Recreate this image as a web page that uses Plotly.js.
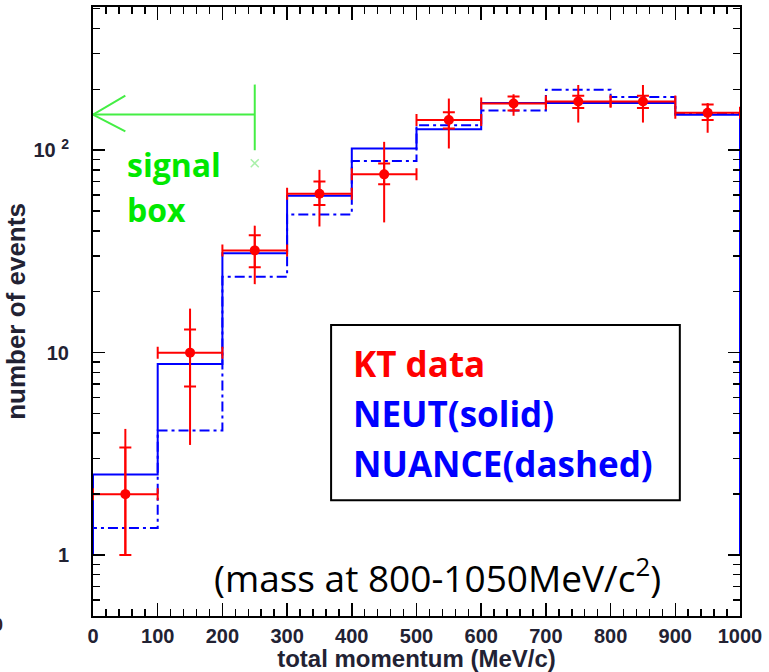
<!DOCTYPE html>
<html>
<head>
<meta charset="utf-8">
<script src="https://cdn.plot.ly/plotly-3.0.1.min.js"></script>
<style>html,body{margin:0;padding:0;background:#fff;}#chart{width:769px;height:672px;}</style>
</head>
<body>
<div id="chart"></div>
<script>
// ---- data ----
const binEdges = [0, 100, 200, 300, 400, 500, 600, 700, 800, 900, 1000];
const binCenters = [50, 150, 250, 350, 450, 550, 650, 750, 850, 950];
const neutSolid = [2.5, 8.8, 31, 59.6, 102, 127, 171, 171, 171, 149.6];
const nuanceDashed = [1.36, 4.12, 23.7, 48.2, 88.5, 133, 157, 199, 183, 152];
const ktData = [2, 10, 32, 61, 76, 141, 170, 174, 174, 153];
const ktInnerUp = [3.4, 13.0, 38, 70, 86, 154, 184, 186, 186, 168];
const ktInnerDown = [1, 6.8, 26.4, 53.6, 68, 128, 157, 161.5, 161.5, 141];
const ktOuterUp = [4.2, 16.5, 42.4, 80, 110, 180, 189, 210, 210, 171];
const ktOuterDown = [1, 3.5, 21.8, 42, 44, 102, 148, 137, 137, 122];
const binHalfWidth = [50, 50, 50, 50, 50, 50, 50, 50, 50, 50];
const histFloor = 1;
// signal box marker
const signalEdge = 250;
const signalLevel = 150;
const signalBarY = [100, 211];
const arrowArmX = [50, 0, 50];
const arrowArmY = [186, 150, 124];
const signalCrossY = 86.3;
const yTickVals = [1, 10, 100];
const yTickText = ['1', '10', '10 <sup>2</sup>'];
const xTickVals = [0, 100, 200, 300, 400, 500, 600, 700, 800, 900, 1000];
const yMinorVals = [0.6, 0.7, 0.8, 0.9, 2, 3, 4, 5, 6, 7, 8, 9, 20, 30, 40, 50, 60, 70, 80, 90, 200, 300, 400, 500];

// ---- build step outlines ----
function stepLine(vals) {
  const xs = [binEdges[0]], ys = [histFloor];
  for (let i = 0; i < vals.length; i++) { xs.push(binEdges[i]); ys.push(vals[i]); }
  const last = binEdges[binEdges.length - 1];
  xs.push(last); ys.push(vals[vals.length - 1]);
  xs.push(last); ys.push(histFloor);
  return {xs, ys};
}
const neutStep = stepLine(neutSolid);
const nuanceStep = stepLine(nuanceDashed);
const diffUp = (a, b) => a.map((v, i) => v - b[i]);
const diffDown = (a, b) => b.map((v, i) => v - a[i]);

const RED = '#ff0000', BLUE = '#0000ff', GREEN = '#00e800', LGREEN = '#44ee44';

const traces = [
  {x: neutStep.xs, y: neutStep.ys, mode: 'lines', line: {color: BLUE, width: 2, shape: 'hv'}, hoverinfo: 'skip'},
  {x: nuanceStep.xs, y: nuanceStep.ys, mode: 'lines', line: {color: BLUE, width: 2, shape: 'hv', dash: '10px,4px,3px,4px'}, hoverinfo: 'skip'},
  {x: binCenters, y: ktData, mode: 'markers', marker: {size: 1, color: RED},
   error_y: {type: 'data', symmetric: false, array: diffUp(ktOuterUp, ktData), arrayminus: diffDown(ktOuterDown, ktData), color: RED, thickness: 2, width: 0}},
  {x: binCenters, y: ktData, mode: 'markers', marker: {size: 1, color: RED},
   error_y: {type: 'data', symmetric: false, array: diffUp(ktInnerUp, ktData), arrayminus: diffDown(ktInnerDown, ktData), color: RED, thickness: 2, width: 6}},
  {x: binCenters, y: ktData, mode: 'markers', marker: {size: 10, color: RED},
   error_x: {type: 'data', array: binHalfWidth, color: RED, thickness: 2, width: 6}},
  // signal box arrow
  {x: [signalEdge, 0], y: [signalLevel, signalLevel], mode: 'lines', line: {color: LGREEN, width: 2}, hoverinfo: 'skip'},
  {x: arrowArmX, y: arrowArmY, mode: 'lines', line: {color: LGREEN, width: 2}, hoverinfo: 'skip'},
  {x: [signalEdge, signalEdge], y: signalBarY, mode: 'lines', line: {color: LGREEN, width: 2}, hoverinfo: 'skip'},
  {x: [signalEdge], y: [signalCrossY], mode: 'markers', marker: {symbol: 'x-thin-open', size: 8, color: '#aaf0aa', line: {width: 1.5, color: '#aaf0aa'}}, hoverinfo: 'skip'}
];

const axisFont = {family: 'Liberation Sans, Arial, sans-serif', size: 20, color: '#222233', weight: 700};

const layout = {
  width: 769, height: 672,
  margin: {l: 93, r: 29, t: 7, b: 56},
  paper_bgcolor: '#ffffff', plot_bgcolor: '#ffffff',
  showlegend: false,
  xaxis: {
    range: [0, 1000], tickmode: 'array', tickvals: xTickVals,
    ticks: 'inside', ticklen: 13, tickwidth: 1.5, tickcolor: '#000',
    minor: {dtick: 20, tick0: 0, ticks: 'inside', ticklen: 7, tickwidth: 1.5, tickcolor: '#000'},
    showline: true, linewidth: 2, linecolor: '#000', mirror: 'ticks',
    showgrid: false, zeroline: false,
    tickfont: axisFont, ticklabelstandoff: 1,
    title: {text: 'total momentum (MeV/c)', font: {family: 'Liberation Sans, Arial, sans-serif', size: 24, color: '#222233', weight: 700}, standoff: 6}
  },
  yaxis: {
    type: 'log', range: [Math.log10(0.5), Math.log10(510)],
    tickmode: 'array', tickvals: yTickVals, ticktext: yTickText,
    ticks: 'inside', ticklen: 12, tickwidth: 1.5, tickcolor: '#000',
    minor: {tickmode: 'array', tickvals: yMinorVals, ticks: 'inside', ticklen: 7, tickwidth: 1.5, tickcolor: '#000'},
    showline: true, linewidth: 2, linecolor: '#000', mirror: 'ticks',
    showgrid: false, zeroline: false,
    tickfont: axisFont, ticklabelstandoff: 18,
    title: {text: 'number of events', font: {family: 'Liberation Sans, Arial, sans-serif', size: 26, color: '#222233', weight: 700}, standoff: 0}
  },
  shapes: [
    {type: 'rect', xref: 'paper', yref: 'paper', x0: 0.368, x1: 0.907, y0: 0.190, y1: 0.478, line: {color: '#000', width: 2}, fillcolor: 'rgba(0,0,0,0)'}
  ],
  annotations: [
    {xref: 'paper', yref: 'paper', x: 0.399, y: 0.415, xanchor: 'left', yanchor: 'middle', showarrow: false, text: 'KT data', font: {family: 'Open Sans', size: 35, color: RED, weight: 700}},
    {xref: 'paper', yref: 'paper', x: 0.399, y: 0.332, xanchor: 'left', yanchor: 'middle', showarrow: false, text: 'NEUT(solid)', font: {family: 'Open Sans', size: 35, color: BLUE, weight: 700}},
    {xref: 'paper', yref: 'paper', x: 0.399, y: 0.250, xanchor: 'left', yanchor: 'middle', showarrow: false, text: 'NUANCE(dashed)', font: {family: 'Open Sans', size: 35, color: BLUE, weight: 700}},
    {xref: 'paper', yref: 'paper', x: 0.532, y: 0.067, xanchor: 'center', yanchor: 'middle', showarrow: false, text: '(mass at 800-1050MeV/c<sup>2</sup>)', font: {family: 'Open Sans', size: 37, color: '#000'}},
    {xref: 'paper', yref: 'paper', x: 0.0495, y: 0.742, xanchor: 'left', yanchor: 'middle', showarrow: false, text: 'signal', font: {family: 'Open Sans', size: 32, color: GREEN, weight: 700}},
    {xref: 'paper', yref: 'paper', x: 0.0495, y: 0.668, xanchor: 'left', yanchor: 'middle', showarrow: false, text: 'box', font: {family: 'Open Sans', size: 32, color: GREEN, weight: 700}},
    {xref: 'paper', yref: 'paper', x: -0.147, y: -0.015, xanchor: 'center', yanchor: 'middle', showarrow: false, text: '0', font: {family: 'Liberation Sans, Arial, sans-serif', size: 18, color: '#332222', weight: 700}}
  ]
};

Plotly.newPlot('chart', traces, layout, {staticPlot: true, displayModeBar: false});
</script>
</body>
</html>
